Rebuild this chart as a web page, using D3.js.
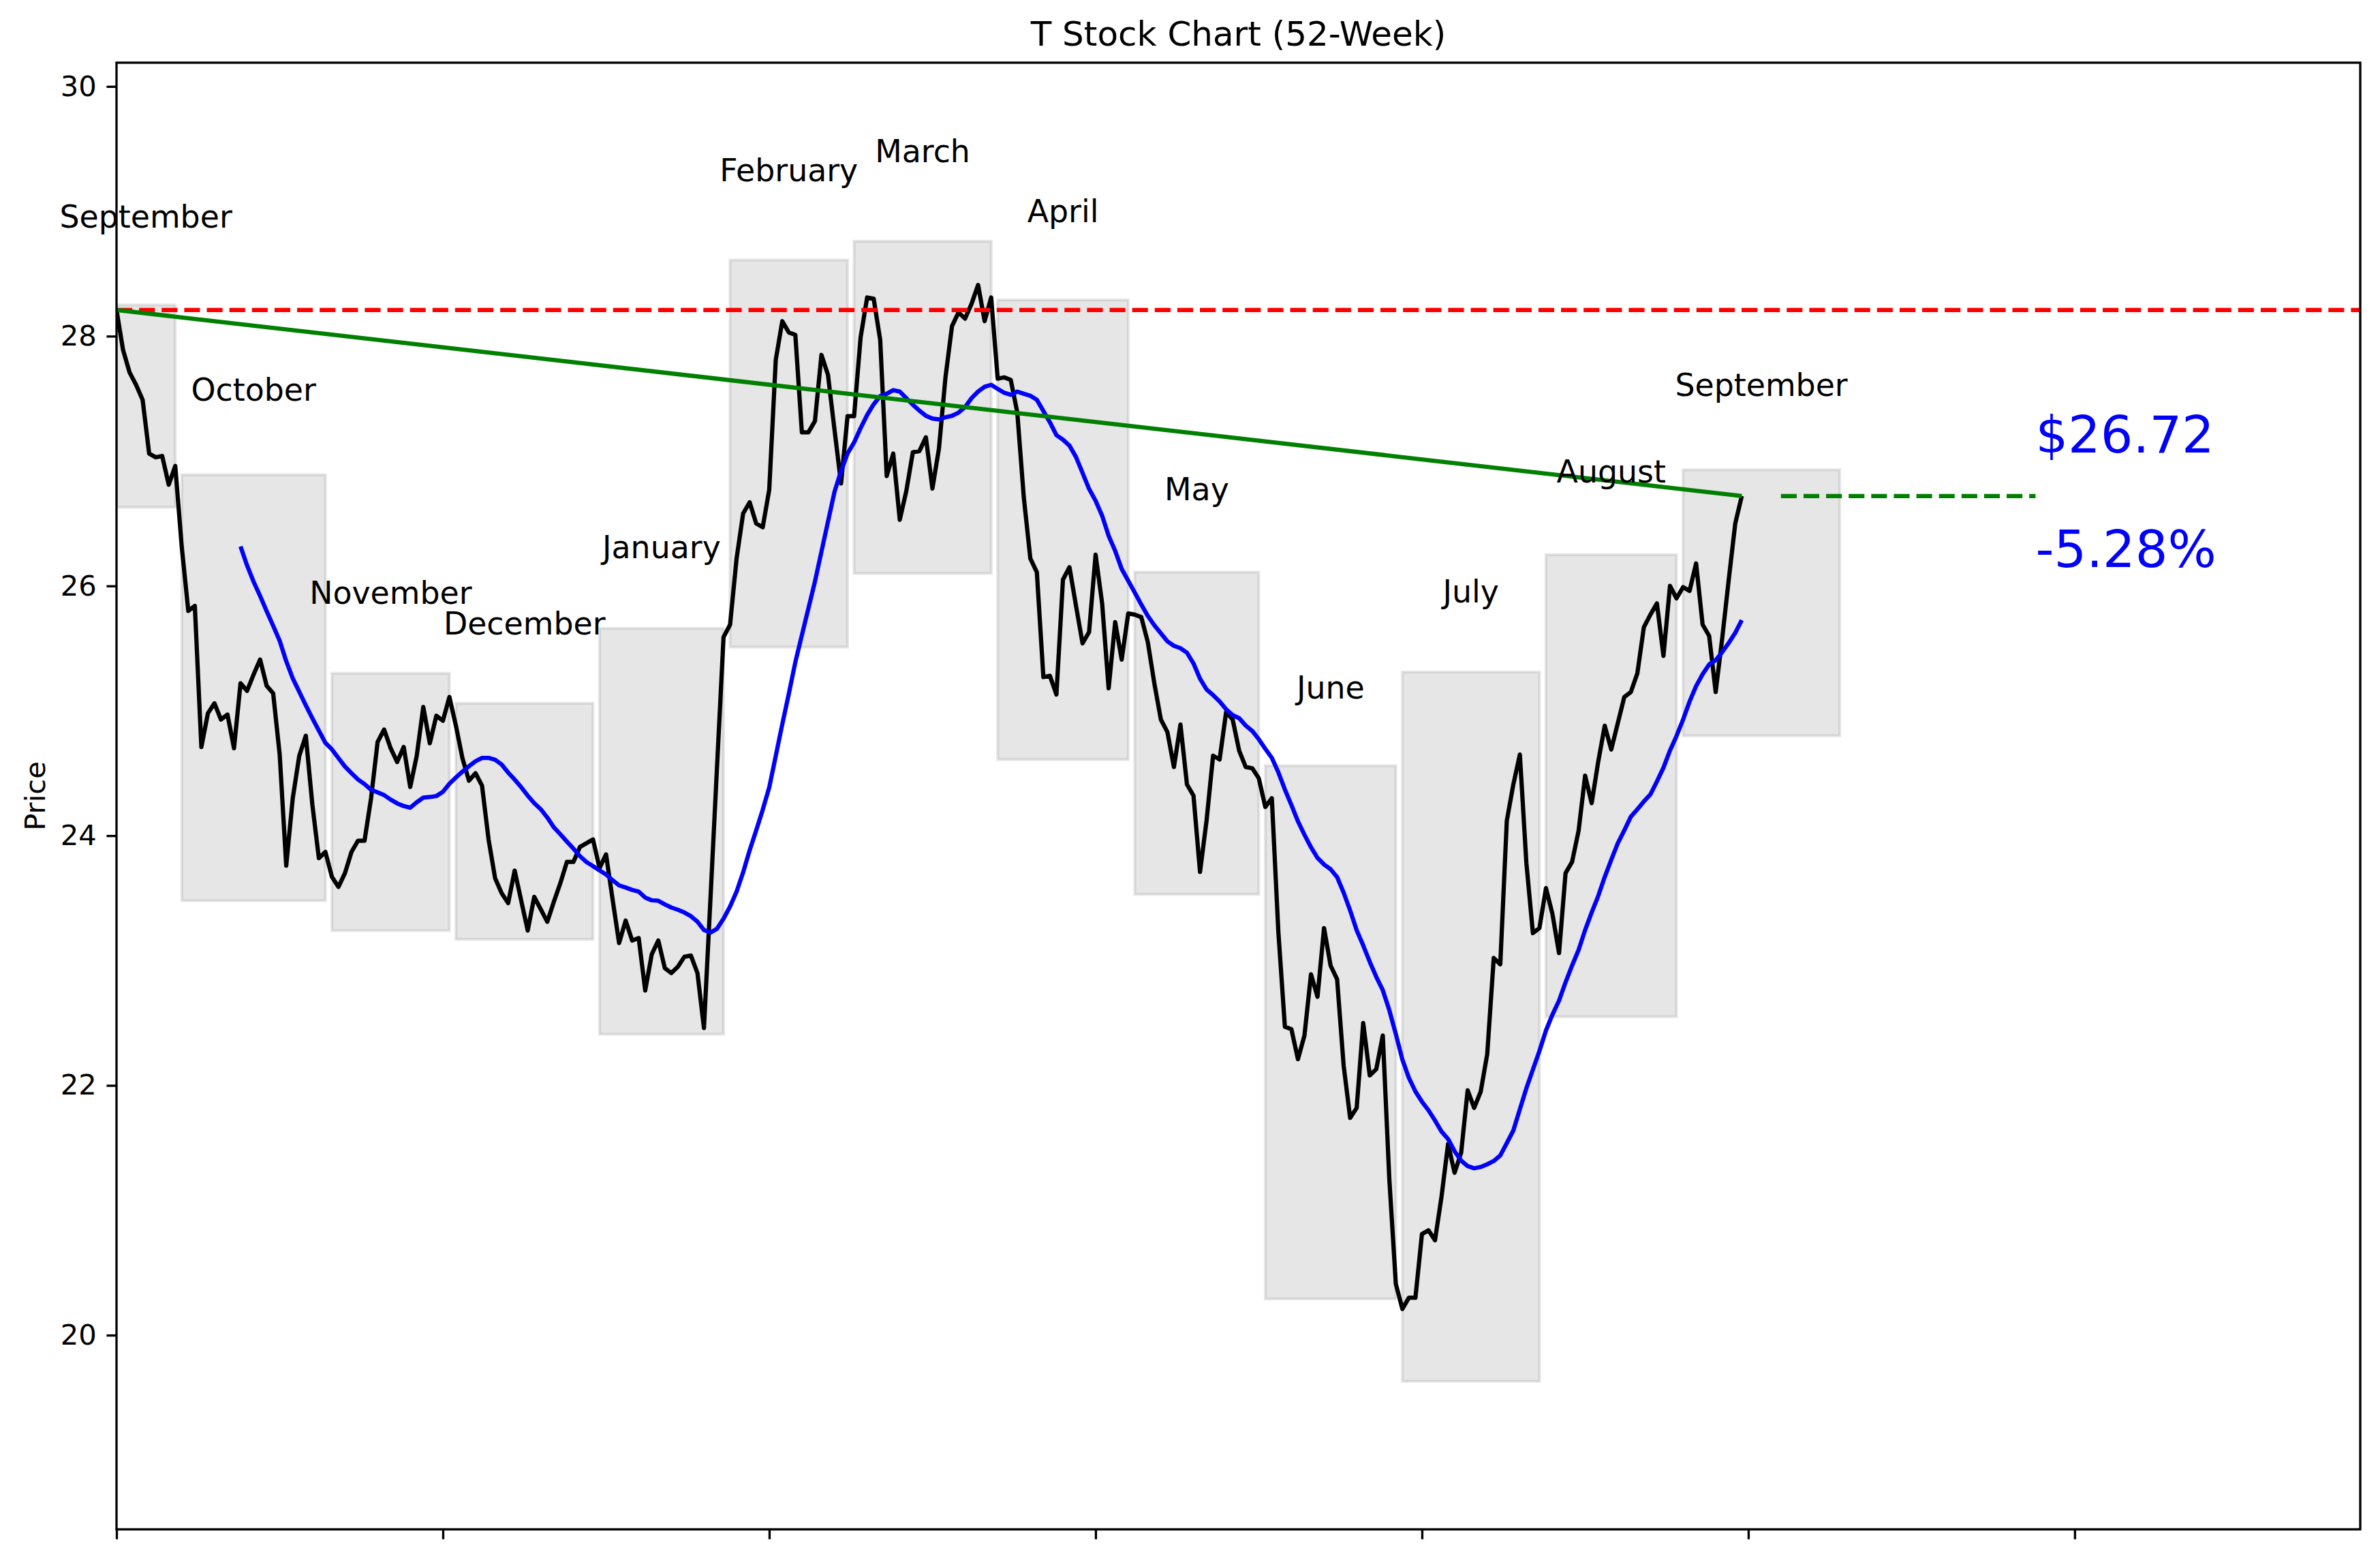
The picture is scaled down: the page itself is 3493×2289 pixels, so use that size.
<!DOCTYPE html>
<html>
<head>
<meta charset="utf-8">
<script src="https://cdn.jsdelivr.net/npm/d3@7"></script>
<style>
  body { margin: 0; background: #fff; }
  svg { display: block; font-family: "DejaVu Sans", sans-serif; }
</style>
</head>
<body>
<svg id="chart" width="3493" height="2289"></svg>
<script>
// daily closes, one per trading day (index 0 = first day of the 52 weeks)
const closes = [
    28.21, 27.89, 27.71, 27.61, 27.49, 27.06, 27.03, 27.04, 26.81, 26.96,
    26.31, 25.80, 25.84, 24.71, 24.98, 25.06, 24.93, 24.97, 24.70, 25.22,
    25.16, 25.29, 25.41, 25.20, 25.14, 24.65, 23.76, 24.30, 24.64, 24.80,
    24.25, 23.82, 23.87, 23.67, 23.59, 23.70, 23.87, 23.96, 23.96, 24.30,
    24.75, 24.85, 24.70, 24.59, 24.71, 24.39, 24.64, 25.03, 24.74, 24.96,
    24.92, 25.11, 24.88, 24.62, 24.44, 24.50, 24.40, 23.97, 23.66, 23.54,
    23.46, 23.72, 23.48, 23.24, 23.51, 23.41, 23.31, 23.47, 23.62, 23.79,
    23.79, 23.91, 23.94, 23.97, 23.74, 23.85, 23.49, 23.14, 23.32, 23.16,
    23.18, 22.76, 23.05, 23.16, 22.94, 22.90, 22.95, 23.03, 23.04, 22.90,
    22.46, 23.50, 24.55, 25.59, 25.69, 26.22, 26.58, 26.67, 26.50, 26.47,
    26.77, 27.81, 28.12, 28.03, 28.01, 27.23, 27.23, 27.32, 27.85, 27.69,
    27.25, 26.82, 27.36, 27.36, 27.99, 28.31, 28.30, 27.97, 26.88, 27.06,
    26.53, 26.76, 27.07, 27.08, 27.19, 26.78, 27.10, 27.67, 28.08, 28.19,
    28.14, 28.26, 28.41, 28.12, 28.31, 27.66, 27.67, 27.65, 27.39, 26.71,
    26.22, 26.11, 25.27, 25.28, 25.13, 26.05, 26.15, 25.84, 25.54, 25.63,
    26.25, 25.86, 25.18, 25.71, 25.41, 25.78, 25.77, 25.75, 25.55, 25.22,
    24.93, 24.83, 24.55, 24.89, 24.41, 24.32, 23.71, 24.12, 24.64, 24.61,
    24.99, 24.93, 24.68, 24.55, 24.54, 24.46, 24.23, 24.30, 23.23, 22.47,
    22.45, 22.21, 22.40, 22.89, 22.71, 23.26, 22.96, 22.85, 22.16, 21.74,
    21.82, 22.50, 22.08, 22.13, 22.40, 21.25, 20.41, 20.21, 20.30, 20.30,
    20.81, 20.84, 20.76, 21.11, 21.53, 21.30, 21.46, 21.96, 21.82, 21.95,
    22.25, 23.02, 22.97, 24.12, 24.41, 24.65, 23.78, 23.22, 23.26, 23.58,
    23.37, 23.06, 23.70, 23.79, 24.04, 24.48, 24.26, 24.59, 24.88, 24.69,
    24.90, 25.11, 25.15, 25.30, 25.67, 25.77, 25.86, 25.44, 26.00, 25.90,
    25.99, 25.96, 26.18, 25.69, 25.60, 25.15, 25.58, 26.05, 26.50, 26.72
];

// monthly boxes: day-index span and the month's high / low
const monthNames = ["September", "October", "November", "December", "January", "February",
    "March", "April", "May", "June", "July", "August", "September"];
const monthStart = [0, 10, 33, 52, 74, 94, 113, 135, 156, 176, 197, 219, 240];
const monthEnd = [9, 32, 51, 73, 93, 112, 134, 155, 175, 196, 218, 239, 264];
const monthHigh = [28.25, 26.89, 25.30, 25.06, 25.66, 28.61, 28.76, 28.29, 26.11, 24.56, 25.31, 26.25, 26.93];
const monthLow = [26.63, 23.48, 23.24, 23.17, 22.41, 25.51, 26.10, 24.61, 23.53, 20.29, 19.63, 22.55, 24.80];

const yTicks = [20, 22, 24, 26, 28, 30];
const xTicks = [0, 50, 100, 150, 200, 250, 300];
const maWindow = 20;

// 300 dpi: 1pt = 4.1667px
const pt = 300 / 72;
const plotLeft = 171, plotRight = 3464, plotTop = 92, plotBottom = 2244;

const svg = d3.select('#chart');
svg.append('rect').attr('width', 3493).attr('height', 2289).attr('fill', '#fff');

const x = d3.scaleLinear().domain([0, closes.length * 1.375]).range([plotLeft, plotRight]);
const y = d3.scaleLinear().domain([18.445, 30.19]).range([plotBottom, plotTop]);

const first = closes[0];
const last = closes[closes.length - 1];

// 20 day moving average of the closes
const movingAvg = closes.map((d, i) =>
    i < maWindow - 1 ? null : d3.mean(closes.slice(i - maWindow + 1, i + 1)));

const plot = svg.append('g');
plot.append('clipPath').attr('id', 'clip')
    .append('rect').attr('x', plotLeft).attr('y', plotTop)
    .attr('width', plotRight - plotLeft).attr('height', plotBottom - plotTop);
const inner = plot.append('g').attr('clip-path', 'url(#clip)');

// month boxes
monthNames.forEach((m, i) => {
    inner.append('rect')
        .attr('x', x(monthStart[i]))
        .attr('y', y(monthHigh[i]))
        .attr('width', x(monthEnd[i]) - x(monthStart[i]))
        .attr('height', y(monthLow[i]) - y(monthHigh[i]))
        .attr('fill', 'gray').attr('fill-opacity', 0.2)
        .attr('stroke', 'gray').attr('stroke-opacity', 0.2)
        .attr('stroke-width', 1 * pt);
});

const priceLine = d3.line().x((d, i) => x(i)).y(d => y(d));

inner.append('path').datum(closes)
    .attr('d', priceLine)
    .attr('fill', 'none').attr('stroke', 'black')
    .attr('stroke-width', 1.5 * pt).attr('stroke-linejoin', 'round');

inner.append('path').datum(movingAvg)
    .attr('d', priceLine.defined(d => d != null))
    .attr('fill', 'none').attr('stroke', 'blue')
    .attr('stroke-width', 1.5 * pt).attr('stroke-linejoin', 'round');

// starting price reference
inner.append('line')
    .attr('x1', plotLeft).attr('x2', plotRight)
    .attr('y1', y(first)).attr('y2', y(first))
    .attr('stroke', 'red').attr('stroke-width', 1.5 * pt)
    .attr('stroke-dasharray', `${3.7 * 1.5 * pt},${1.6 * 1.5 * pt}`);

// first to last trend
inner.append('line')
    .attr('x1', x(0)).attr('y1', y(first))
    .attr('x2', x(closes.length - 1)).attr('y2', y(last))
    .attr('stroke', 'green').attr('stroke-width', 1.5 * pt);

const projStart = closes.length + 5;
const projEnd = closes.length + 44;
inner.append('line')
    .attr('x1', x(projStart)).attr('x2', x(projEnd))
    .attr('y1', y(last)).attr('y2', y(last))
    .attr('stroke', 'green').attr('stroke-width', 1.5 * pt)
    .attr('stroke-dasharray', `${3.7 * 1.5 * pt},${1.6 * 1.5 * pt}`);

// month labels
monthNames.forEach((m, i) => {
    svg.append('text')
        .attr('x', x((monthStart[i] + monthEnd[i]) / 2))
        .attr('y', y(monthHigh[i] * 1.022))
        .attr('text-anchor', 'middle')
        .attr('font-size', 11 * pt)
        .text(m);
});

// last price and change
const pct = (last - first) / first * 100;
svg.append('text')
    .attr('x', x(projEnd)).attr('y', y(last) - 64)
    .attr('font-size', 18 * pt).attr('fill', 'blue')
    .text(`$${last.toFixed(2)}`);
svg.append('text')
    .attr('x', x(projEnd)).attr('y', y(last) + 104)
    .attr('font-size', 18 * pt).attr('fill', 'blue')
    .text(`${pct.toFixed(2)}%`);

// axes
const yAxis = d3.axisLeft(y).tickValues(yTicks).tickFormat(d3.format('d'))
    .tickSize(3.5 * pt).tickSizeOuter(0).tickPadding(3.5 * pt);
const xAxis = d3.axisBottom(x).tickValues(xTicks).tickFormat('')
    .tickSize(3.5 * pt).tickSizeOuter(0);

const gy = svg.append('g').attr('transform', `translate(${plotLeft},0)`).call(yAxis);
const gx = svg.append('g').attr('transform', `translate(0,${plotBottom})`).call(xAxis);
[gx, gy].forEach(g => {
    g.select('.domain').remove();
    g.selectAll('.tick line').attr('stroke', 'black').attr('stroke-width', 0.8 * pt);
    g.selectAll('.tick text').attr('font-size', 10 * pt)
        .attr('font-family', '"DejaVu Sans", sans-serif').attr('fill', 'black');
});

// frame
svg.append('rect')
    .attr('x', plotLeft).attr('y', plotTop)
    .attr('width', plotRight - plotLeft).attr('height', plotBottom - plotTop)
    .attr('fill', 'none').attr('stroke', 'black').attr('stroke-width', 0.8 * pt);

svg.append('text')
    .attr('transform', `translate(66,${(plotTop + plotBottom) / 2}) rotate(-90)`)
    .attr('text-anchor', 'middle')
    .attr('font-size', 10 * pt)
    .text('Price');

svg.append('text')
    .attr('x', (plotLeft + plotRight) / 2).attr('y', 67)
    .attr('text-anchor', 'middle')
    .attr('font-size', 12 * pt)
    .text('T Stock Chart (52-Week)');
</script>
</body>
</html>
